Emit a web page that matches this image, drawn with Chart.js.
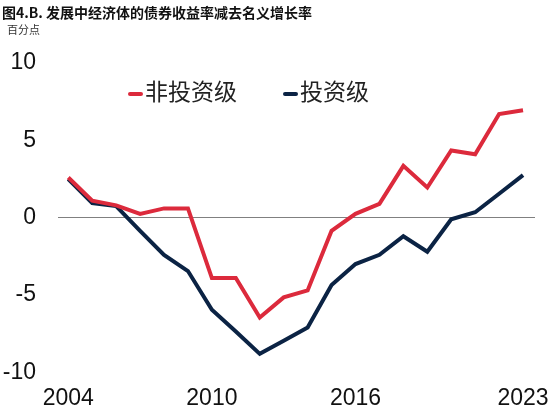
<!doctype html>
<html lang="zh">
<head>
  <meta charset="UTF-8">
  <title>图4.B</title>
  <script src="https://cdn.jsdelivr.net/npm/chart.js@4.4.0/dist/chart.umd.min.js"></script>
  <style>
      body {
          margin: 0;
          background: #fff;
      }
      .container {
          position: relative;
          width: 550px;
          height: 416px;
      }
      .title {
          position: absolute;
          left: 2px;
          top: 3px;
          font: bold 14px "Noto Sans CJK SC", sans-serif;
          color: #111;
          line-height: 18px;
          white-space: nowrap;
      }
      .unit {
          position: absolute;
          left: 7px;
          top: 22px;
          font: 11px "Noto Sans CJK SC", sans-serif;
          color: #333;
          line-height: 15px;
      }
      .legend {
          position: absolute;
          top: 75px;
          font: 23px "Noto Sans CJK SC", sans-serif;
          color: #222;
          line-height: 30px;
          white-space: nowrap;
      }
      .legend span {
          display: inline-block;
          width: 15px;
          height: 4px;
          border-radius: 2px;
          vertical-align: middle;
          margin-right: 2px;
      }
  </style>
</head>
<body>

<div class="container">
  <canvas id="myChart"></canvas>
  <div class="title">图4.B. 发展中经济体的债券收益率减去名义增长率</div>
  <div class="unit">百分点</div>
  <div class="legend" style="left:128px"><span style="background:#dc2a3c"></span>非投资级</div>
  <div class="legend" style="left:283px"><span style="background:#0b2344"></span>投资级</div>
</div>

<script>
  const years = [2004, 2005, 2006, 2007, 2008, 2009, 2010, 2011, 2012, 2013,
    2014, 2015, 2016, 2017, 2018, 2019, 2020, 2021, 2022, 2023]
  const nonInvestment = [2.6, 1.1, 0.8, 0.25, 0.6, 0.6, -3.9, -3.9, -6.45, -5.15,
    -4.7, -0.85, 0.25, 0.9, 3.35, 1.95, 4.35, 4.1, 6.7, 6.95]
  const investment = [2.5, 0.95, 0.75, -0.85, -2.4, -3.45, -5.95, -7.35, -8.8, -7.95,
    -7.1, -4.35, -3.0, -2.4, -1.2, -2.2, -0.1, 0.35, 1.55, 2.75]
  const yearTicks = [2004, 2010, 2016, 2023]

  const chartDom = document.querySelector('#myChart')

  const chart = new Chart(chartDom, {
    type: 'line',
    data: {
      datasets: [
        {
          label: '非投资级',
          data: years.map((x, i) => ({x, y: nonInvestment[i]})),
          borderColor: '#dc2a3c',
          borderWidth: 4,
          pointRadius: 0,
          tension: 0
        },
        {
          label: '投资级',
          data: years.map((x, i) => ({x, y: investment[i]})),
          borderColor: '#0b2344',
          borderWidth: 4,
          pointRadius: 0,
          tension: 0
        }
      ]
    },
    options: {
      responsive: true,
      maintainAspectRatio: false,
      animation: false,
      layout: {
        padding: {top: 63, left: 2, right: 15, bottom: 0}
      },
      plugins: {
        legend: {display: false},
        tooltip: {enabled: false}
      },
      scales: {
        x: {
          type: 'linear',
          min: 2003.57,
          max: 2023.5,
          afterBuildTicks: (axis) => {
            axis.ticks = yearTicks.map(v => ({value: v}))
          },
          afterFit: (axis) => {
            // labels may hang past the plot edges, like the original
            axis.paddingLeft = 0
            axis.paddingRight = 0
          },
          grid: {display: false},
          border: {display: false},
          ticks: {
            autoSkip: false,
            maxRotation: 0,
            padding: 4,
            color: '#111',
            font: {family: 'Liberation Sans', size: 23},
            callback: (v) => String(v)
          }
        },
        y: {
          min: -10,
          max: 10,
          afterFit: (axis) => {
            axis.width = 56
          },
          border: {display: false},
          grid: {
            drawTicks: false,
            color: (ctx) => ctx.tick && ctx.tick.value === 0 ? '#808080' : 'rgba(0,0,0,0)',
            lineWidth: 1
          },
          ticks: {
            stepSize: 5,
            padding: 22,
            color: '#111',
            font: {family: 'Liberation Sans', size: 23}
          }
        }
      }
    }
  })
</script>

</body>
</html>
